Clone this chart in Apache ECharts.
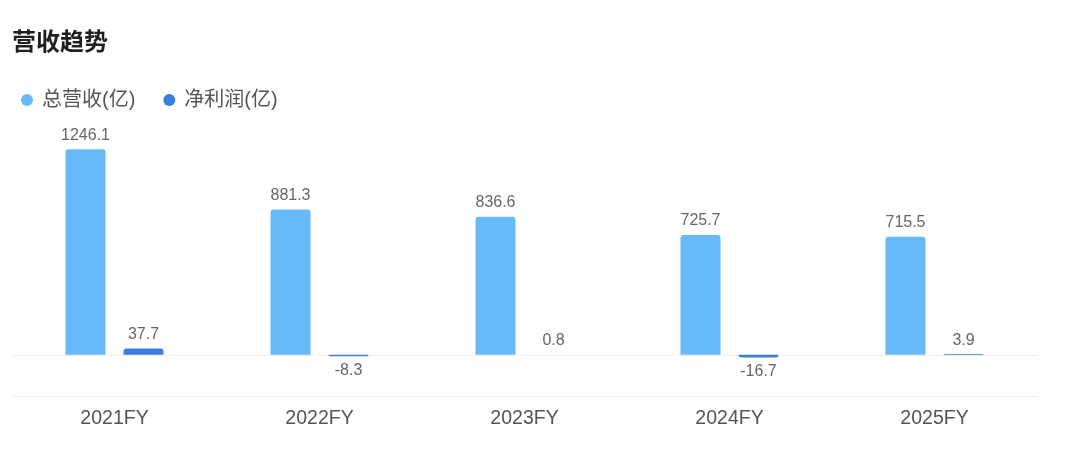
<!DOCTYPE html>
<html>
<head>
<meta charset="utf-8">
<script src="https://cdn.jsdelivr.net/npm/echarts@6/dist/echarts.min.js"></script>
<style>
html,body{margin:0;padding:0;background:#fff;}
#c{width:1080px;height:458px;}
</style>
</head>
<body>
<div id="c"></div>
<script>
const categories = ['2021FY', '2022FY', '2023FY', '2024FY', '2025FY'];
const revenue = [1246.1, 881.3, 836.6, 725.7, 715.5];
const netProfit = [37.7, -8.3, 0.8, -16.7, 3.9];
const seriesNames = ['总营收(亿)', '净利润(亿)'];
const titleText = '营收趋势';

const FONT = '"Liberation Sans", "Noto Sans CJK SC", sans-serif';
const chart = echarts.init(document.getElementById('c'), null, {renderer: 'canvas'});

chart.setOption({
  animation: false,
  backgroundColor: '#ffffff',
  title: {
    text: titleText,
    left: 12, top: 29, padding: 0,
    textStyle: {fontSize: 24, fontWeight: 'bold', color: '#1f1f1f', fontFamily: '"Noto Sans CJK SC", sans-serif'}
  },
  legend: {
    left: 21, top: 90, padding: 0,
    icon: 'circle', itemWidth: 20, itemHeight: 12, itemGap: 28,
    textStyle: {fontSize: 20, color: '#555', fontFamily: FONT},
    data: seriesNames
  },
  grid: {left: 12, right: 43, top: 148.6, bottom: 62, containLabel: false},
  xAxis: {
    type: 'category',
    data: categories,
    axisLine: {onZero: false, lineStyle: {color: '#eeeeee', width: 1}},
    axisTick: {show: false},
    axisLabel: {fontSize: 19.5, color: '#555', margin: 13, fontFamily: FONT}
  },
  yAxis: {
    type: 'value', min: -250, max: 1250, interval: 250,
    show: false,
    splitLine: {show: false}
  },
  series: [
    {
      name: 'zero', type: 'line', data: [], z: 0, silent: true,
      markLine: {
        silent: true, symbol: 'none', label: {show: false}, z: 0,
        lineStyle: {color: '#eeeeee', type: 'solid', width: 1},
        data: [{yAxis: 0}]
      }
    },
    {
      name: seriesNames[0], type: 'bar', data: revenue,
      barWidth: 40, barGap: '45%', z: 2,
      itemStyle: {color: '#66baf9', borderRadius: [3, 3, 0, 0]},
      label: {show: true, position: 'top', distance: 6, fontSize: 16, color: '#666', fontFamily: FONT}
    },
    {
      name: seriesNames[1], type: 'bar', z: 2, data: netProfit.map(v => ({
        value: v,
        label: {position: v < 0 ? 'bottom' : 'top'},
        itemStyle: {borderRadius: v < 0 ? [0, 0, 3, 3] : [3, 3, 0, 0]}
      })),
      barWidth: 40,
      itemStyle: {color: '#3b7ddc'},
      label: {show: true, distance: 6, fontSize: 16, color: '#666', fontFamily: FONT}
    }
  ]
});
</script>
</body>
</html>
